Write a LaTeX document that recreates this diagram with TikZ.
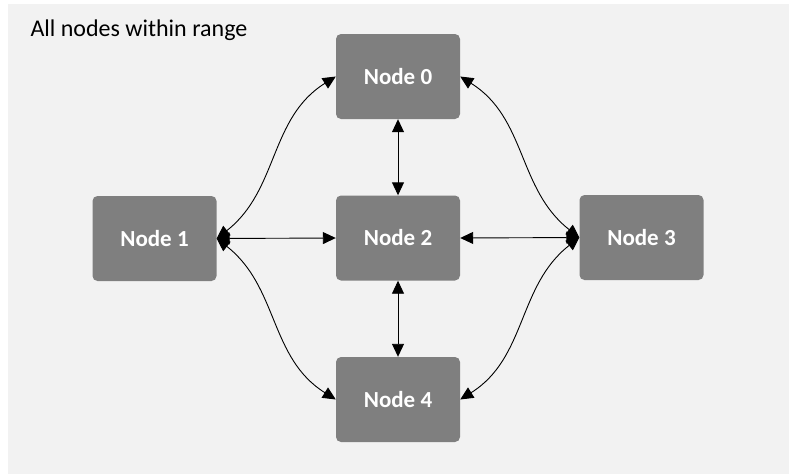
\documentclass[tikz,border=0pt]{standalone}
\usepackage{fontspec}
\setmainfont{Carlito}
\usetikzlibrary{arrows.meta}
\definecolor{panelgray}{HTML}{F2F2F2}
\definecolor{nodegray}{HTML}{7F7F7F}
\begin{document}
\begin{tikzpicture}[x=1pt, y=1pt,
    netnode/.style={fill=nodegray, rounded corners=5pt, minimum width=124pt,
      minimum height=85pt, inner sep=0pt, text=white,
      font=\fontsize{23}{28}\selectfont\bfseries},
    link/.style={{Triangle[length=13pt,width=12pt]}-{Triangle[length=13pt,width=12pt]}, line width=0.9pt}]
      \useasboundingbox (0,0) rectangle (789,-474);
      % Background panel
      \fill[panelgray] (8,-4) rectangle (789,-474);
      \node[anchor=base west, font=\fontsize{24}{29}\selectfont] (title) at (27,-36) {All nodes within range};
      % Nodes
      \node[netnode] (n0) at (398,-76.5) {Node 0};
      \node[netnode] (n1) at (154.5,-238.5) {Node 1};
      \node[netnode] (n2) at (398,-238) {Node 2};
      \node[netnode] (n3) at (641.5,-237.5) {Node 3};
      \node[netnode] (n4) at (398,-399.5) {Node 4};
      % Straight links through Node 2
      \draw[link] (n1.east) -- (n2.west);
      \draw[link] (n2.east) -- (n3.west);
      \draw[link] (n2.north) -- (n0.south);
      \draw[link] (n2.south) -- (n4.north);
      % Curved links round the outside
      \draw[link] (n1.east) to[out=38, in=-148] (n0.west);
      \draw[link] (n1.east) to[out=-38, in=148] (n4.west);
      \draw[link] (n3.west) to[out=142, in=-32] (n0.east);
      \draw[link] (n3.west) to[out=-142, in=32] (n4.east);
    \end{tikzpicture}
\end{document}
